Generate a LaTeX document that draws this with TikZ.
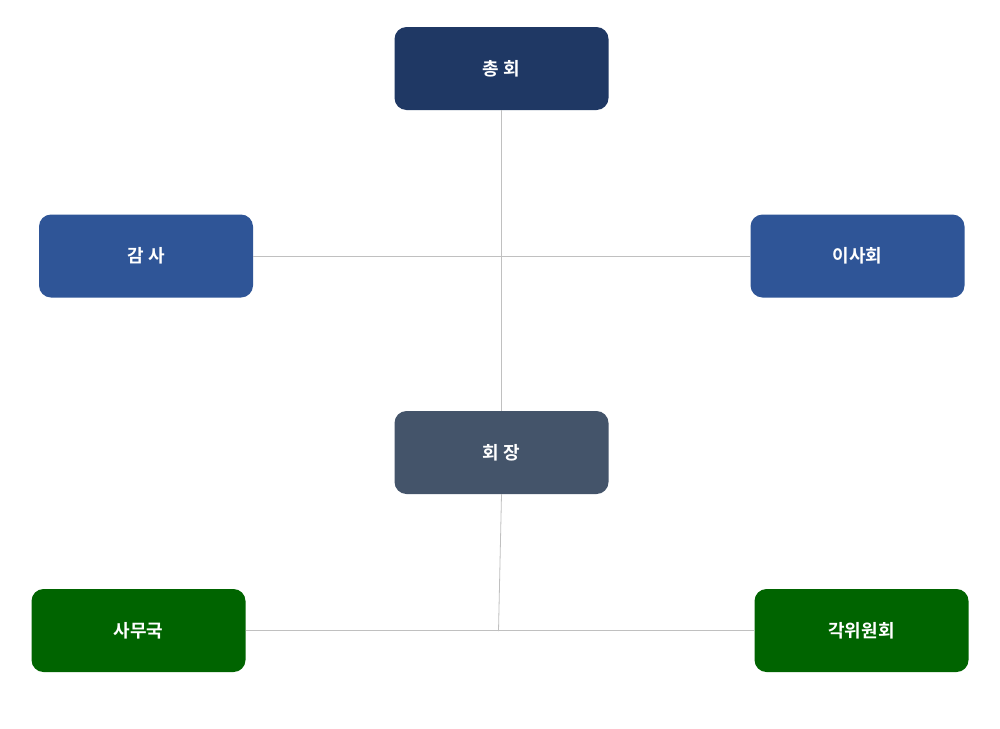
\documentclass[tikz,border=0pt]{standalone}
\usepackage{fontspec}
\newfontfamily\kr{Noto Sans CJK KR}[BoldFont={Noto Sans CJK KR Bold}]
\definecolor{navy}{HTML}{1F3864}
\definecolor{blu}{HTML}{2F5597}
\definecolor{slate}{HTML}{44546A}
\definecolor{grn}{HTML}{006400}
\definecolor{ln}{HTML}{C0C0C0}
\begin{document}
\begin{tikzpicture}[x=1pt,y=-1pt,
  box/.style={rounded corners=12pt,minimum width=214pt,minimum height=83pt,inner sep=0pt,text=white,font=\kr\bfseries\fontsize{18}{20}\selectfont},
  conn/.style={draw=ln,line width=0.8pt}]
\useasboundingbox[fill=white] (0,0) rectangle (1000,728);
\node[box,fill=navy] (chong) at (501.5,68.5) {총 회};
\node[box,fill=blu] (gamsa) at (146,256) {감 사};
\node[box,fill=blu] (isa) at (857.5,256) {이사회};
\node[box,fill=slate] (hoe) at (501.5,452.5) {회 장};
\node[box,fill=grn] (samu) at (138.5,630.5) {사무국};
\node[box,fill=grn] (gak) at (861.5,630.5) {각위원회};
\coordinate (j1) at (500.5,631);
\draw[conn] (chong.south) -- (hoe.north);
\draw[conn] (gamsa.east) -- (isa.west);
\draw[conn] (hoe.south) -- (498.5,631);
\draw[conn] (samu.east) -- (gak.west);
\end{tikzpicture}
\end{document}
